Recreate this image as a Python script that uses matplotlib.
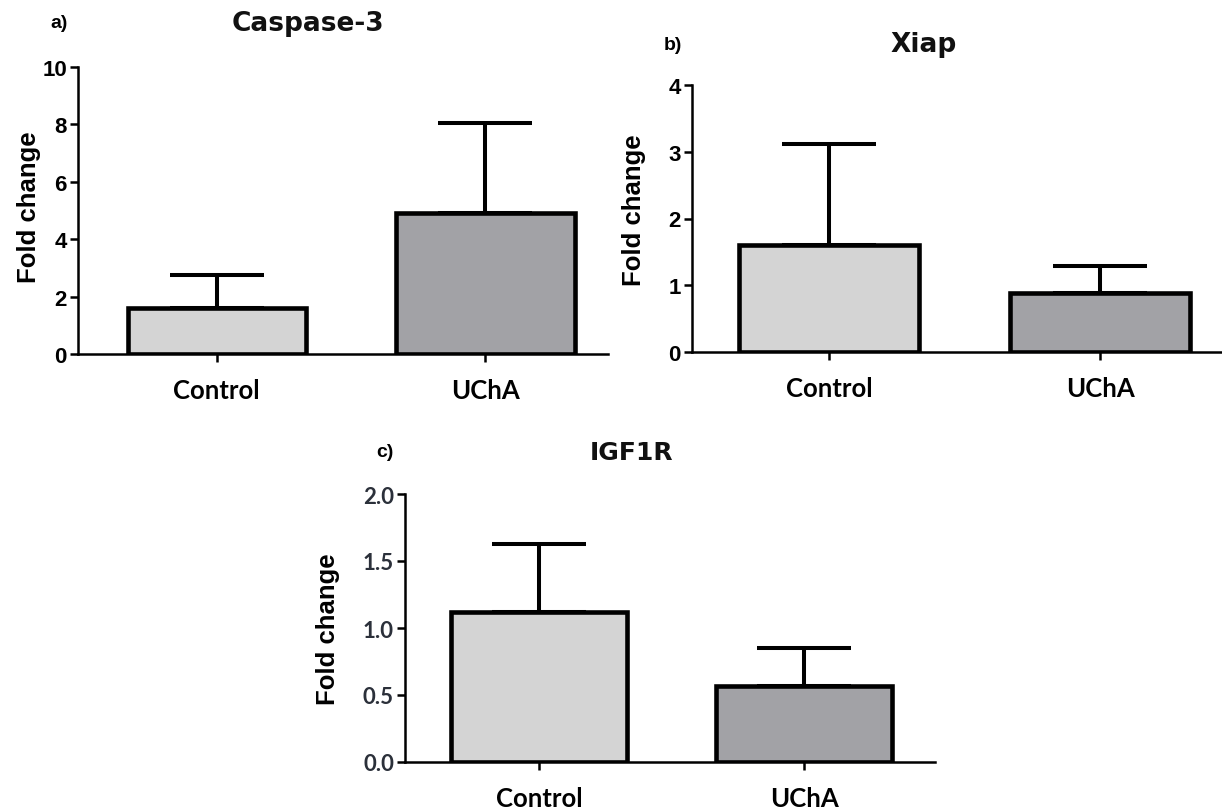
import matplotlib
matplotlib.use("Agg")
import matplotlib.pyplot as plt

categories = ["Control", "UChA"]

casp_mean = [1.6, 4.9]
casp_err = [1.15, 3.15]
xiap_mean = [1.6, 0.88]
xiap_err = [1.52, 0.41]
igf_mean = [1.12, 0.57]
igf_err = [0.51, 0.28]

casp_yticks = [0, 2, 4, 6, 8, 10]
xiap_yticks = [0, 1, 2, 3, 4]
igf_yticks = [0.0, 0.5, 1.0, 1.5, 2.0]

bar_colors = ["#d4d4d4", "#a2a2a6"]

W, H = 1222, 812
fig = plt.figure(figsize=(W / 100, H / 100), dpi=100)


def px_axes(left, right, top, bottom):
    return fig.add_axes([left / W, 1 - bottom / H, (right - left) / W, (bottom - top) / H])


def draw_panel(ax, means, errs, yticks, ylim, xlim, tick_fmt, tick_font, tick_size, tick_color):
    x = list(range(len(categories)))
    ax.errorbar(x, means, yerr=[[0] * len(errs), errs], fmt="none", ecolor="black",
                elinewidth=2.9, capsize=34, capthick=2.9, zorder=1)
    ax.bar(x, means, width=0.665, color=bar_colors, edgecolor="black", linewidth=3.3, zorder=2)
    ax.set_xlim(*xlim)
    ax.set_ylim(*ylim)
    ax.set_yticks(yticks)
    ax.set_yticklabels([tick_fmt.format(v) for v in yticks], fontfamily=tick_font,
                       fontweight="bold", fontsize=tick_size, color=tick_color)
    ax.set_xticks(x)
    ax.set_xticklabels(categories, fontfamily="Lato", fontweight="bold", fontsize=18.5)
    for s in ["top", "right"]:
        ax.spines[s].set_visible(False)
    for s in ["left", "bottom"]:
        ax.spines[s].set_linewidth(1.8)
    ax.tick_params(axis="y", direction="out", length=6, width=1.8, pad=2)
    ax.tick_params(axis="x", direction="out", length=6, width=1.8, pad=11)
    ax.patch.set_alpha(0)


# Panel a
axa = px_axes(78, 608, 68, 355)
draw_panel(axa, casp_mean, casp_err, casp_yticks, (0, 10), (-0.517, 1.457),
           "{:d}", "Liberation Sans", 16, "black")
fig.text(59 / W, 1 - 24 / H, "a)", ha="center", va="center", fontsize=14,
         fontfamily="Liberation Sans", fontweight="bold")
fig.text(308 / W, 1 - 24 / H, "Caspase-3", ha="center", va="center", fontsize=19,
         fontfamily="DejaVu Sans", fontweight="bold", color="#111111")
fig.text(29 / W, 1 - 207 / H, "Fold change", ha="center", va="center", rotation=90,
         fontsize=18.5, fontfamily="Liberation Sans", fontweight="bold")

# Panel b
axb = px_axes(692, 1222, 86, 353)
draw_panel(axb, xiap_mean, xiap_err, xiap_yticks, (0, 4), (-0.506, 1.45),
           "{:d}", "Liberation Sans", 16, "black")
fig.text(673 / W, 1 - 45 / H, "b)", ha="center", va="center", fontsize=14,
         fontfamily="Liberation Sans", fontweight="bold")
fig.text(924 / W, 1 - 45 / H, "Xiap", ha="center", va="center", fontsize=19,
         fontfamily="DejaVu Sans", fontweight="bold", color="#111111")
fig.text(634 / W, 1 - 210 / H, "Fold change", ha="center", va="center", rotation=90,
         fontsize=18.5, fontfamily="Liberation Sans", fontweight="bold")

# Panel c
axc = px_axes(405, 935, 495, 763)
draw_panel(axc, igf_mean, igf_err, igf_yticks, (0, 2.0), (-0.506, 1.494),
           "{:.1f}", "Lato", 16, "#2b303a")
fig.text(385 / W, 1 - 453 / H, "c)", ha="center", va="center", fontsize=14,
         fontfamily="Liberation Sans", fontweight="bold")
fig.text(632 / W, 1 - 453 / H, "IGF1R", ha="center", va="center", fontsize=18,
         fontfamily="DejaVu Sans", fontweight="bold", color="#111111")
fig.text(328 / W, 1 - 629 / H, "Fold change", ha="center", va="center", rotation=90,
         fontsize=18.5, fontfamily="Liberation Sans", fontweight="bold")

fig.savefig("out.png", dpi=100)
